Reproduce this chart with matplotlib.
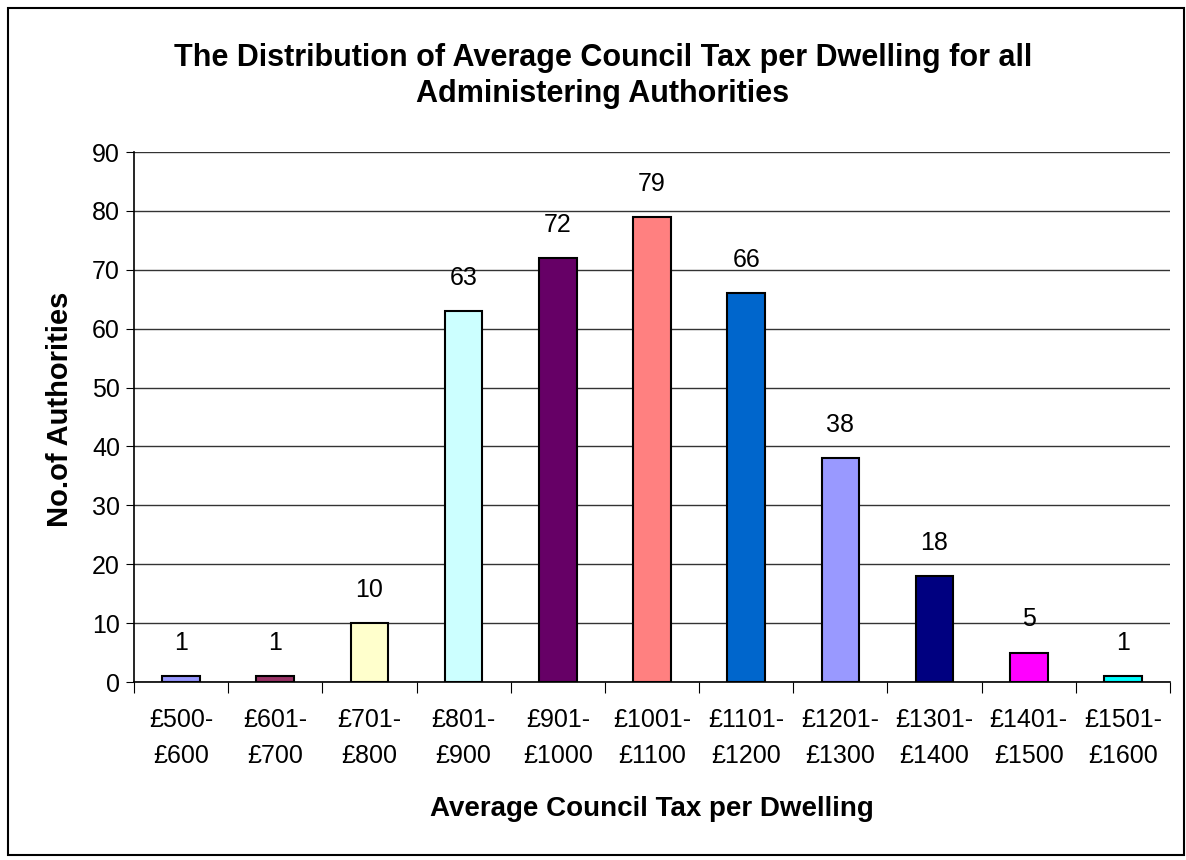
import matplotlib.pyplot as plt
from matplotlib.patches import Rectangle

bands = ['£500-\n£600', '£601-\n£700', '£701-\n£800', '£801-\n£900', '£901-\n£1000',
         '£1001-\n£1100', '£1101-\n£1200', '£1201-\n£1300', '£1301-\n£1400',
         '£1401-\n£1500', '£1501-\n£1600']
counts = [1, 1, 10, 63, 72, 79, 66, 38, 18, 5, 1]
colours = ['#9999FF', '#993366', '#FFFFCC', '#CCFFFF', '#660066', '#FF8080',
           '#0066CC', '#9999FF', '#000080', '#FF00FF', '#00FFFF']

plt.rcParams['font.family'] = ['Liberation Sans', 'DejaVu Sans']

fig = plt.figure(figsize=(11.86, 8.6), dpi=100)
ax = fig.add_axes([134 / 1186, 1 - 682 / 860, (1170 - 134) / 1186, (682 - 152) / 860])

x = range(len(counts))
ax.bar(x, counts, width=0.4, color=colours, edgecolor='black', linewidth=1.5, zorder=3)
for i, v in zip(x, counts):
    ax.text(i, v + 3.6, str(v), ha='center', va='bottom', fontsize=18)

ax.set_xlim(-0.5, len(counts) - 0.5)
ax.set_ylim(0, 90)
ax.set_yticks(range(0, 91, 10))
ax.tick_params(axis='y', labelsize=18, length=6, direction='out', pad=4)
ax.set_xticks([i + 0.5 for i in range(-1, len(counts))], minor=False)
ax.set_xticklabels([])
ax.set_xticks(list(x), minor=True)
ax.set_xticklabels(bands, minor=True, fontsize=18, linespacing=1.6)
ax.tick_params(axis='x', which='major', length=8, direction='out')
ax.tick_params(axis='x', which='minor', length=0, pad=19)
ax.grid(axis='y', color='#333333', linewidth=1, zorder=0)
for s in ['top', 'right']:
    ax.spines[s].set_visible(False)
ax.spines['left'].set_linewidth(1.2)
ax.spines['bottom'].set_linewidth(1.2)

ax.set_ylabel('No.of Authorities', fontsize=21, fontweight='bold', labelpad=13)
ax.yaxis.label.set_y(0.515)
ax.set_xlabel('Average Council Tax per Dwelling', fontsize=20, fontweight='bold', labelpad=20)

fig.text(603 / 1186, 1 - 76 / 860,
         'The Distribution of Average Council Tax per Dwelling for all\nAdministering Authorities',
         ha='center', va='center', fontsize=22, fontweight='bold', linespacing=1.3)

fig.patches.append(Rectangle((8 / 1186, 1 - 855 / 860), 1176 / 1186, 847 / 860,
                             transform=fig.transFigure, fill=False, edgecolor='black', linewidth=1.5))

fig.savefig('out.png', dpi=100)
